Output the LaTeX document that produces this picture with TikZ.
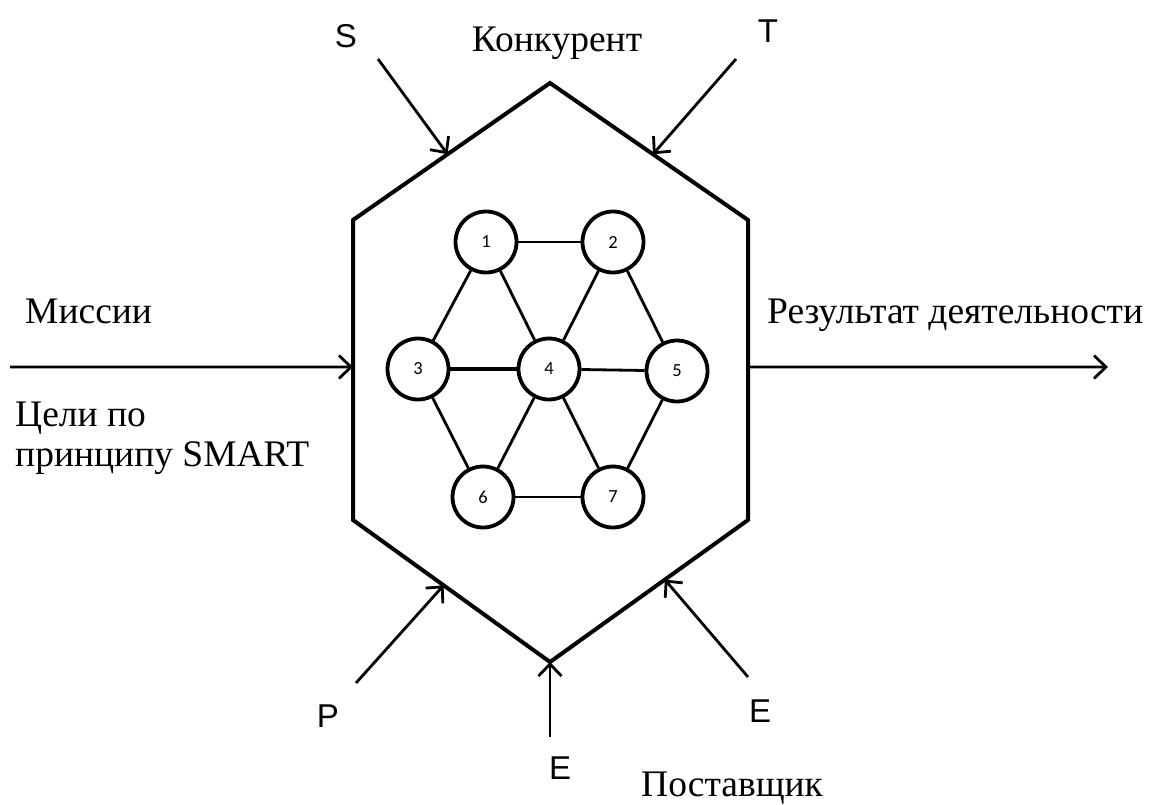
\documentclass[tikz,border=0pt]{standalone}
\usepackage{fontspec}
\setmainfont{Liberation Serif}
\newfontfamily\labfont{Liberation Sans}
\newfontfamily\numfont{Carlito}
\usetikzlibrary{arrows.meta,calc}
\begin{document}
\begin{tikzpicture}[x=1pt,y=-1pt,
  hexline/.style={line width=4pt, line join=miter},
  circ/.style={circle, draw, line width=3.8pt, minimum size=61pt, inner sep=0pt, font=\numfont\fontsize{18.5}{20}\selectfont},
  link/.style={line width=2.8pt},
  thicklink/.style={line width=4.8pt},
  flow/.style={line width=2.8pt, -{Straight Barb[length=12pt,width=23pt]}},
  serif/.style={inner sep=0pt, font=\fontsize{37.5}{42}\selectfont},
  letter/.style={inner sep=0pt, font=\labfont\fontsize{33}{36}\selectfont}]
\useasboundingbox (0,0) rectangle (1156,805);

% hexagon
\coordinate (top) at (550,83);
\coordinate (ur) at (748,220);
\coordinate (lr) at (748,520);
\coordinate (bot) at (550,662);
\coordinate (ll) at (353,520);
\coordinate (ul) at (353,220);
\draw[hexline] (top) -- (ur) -- (lr) -- (bot) -- (ll) -- (ul) -- cycle;

% entry points on the hexagon
\coordinate (sIn) at ($(ul)!0.48!(top)$);
\coordinate (tIn) at ($(top)!0.52!(ur)$);
\coordinate (pIn) at ($(ll)!0.46!(bot)$);
\coordinate (eIn) at ($(bot)!0.58!(lr)$);
\coordinate (leftIn) at ($(ul)!0.49!(ll)$);
\coordinate (rightOut) at ($(ur)!0.49!(lr)$);

% free ends
\coordinate (sStart) at (378,59);
\coordinate (tStart) at (736,59);
\coordinate (pStart) at (356,683);
\coordinate (eStart) at (748,677);
\coordinate (botStart) at (550,737);
\coordinate (leftStart) at (10,367);
\coordinate (rightEnd) at (1108,367);

% circles
\node[circ] (n1) at (486,242) {1};
\node[circ] (n2) at (613,242) {2};
\node[circ] (n3) at (418,369) {3};
\node[circ] (n4) at (549,369) {4};
\node[circ] (n5) at (677,371) {5};
\node[circ] (n6) at (483,497) {6};
\node[circ] (n7) at (613,497) {7};

\draw[link] (n1) -- (n2);
\draw[link] (n1) -- (n3);
\draw[link] (n1) -- (n4);
\draw[link] (n2) -- (n4);
\draw[link] (n2) -- (n5);
\draw[thicklink] (n3) -- (n4);
\draw[link] (n4) -- (n5);
\draw[link] (n3) -- (n6);
\draw[link] (n4) -- (n6);
\draw[link] (n4) -- (n7);
\draw[link] (n5) -- (n7);
\draw[link] (n6) -- (n7);

% arrows
\draw[flow] (sStart) -- (sIn);
\draw[flow] (tStart) -- (tIn);
\draw[flow] (pStart) -- (pIn);
\draw[flow] (eStart) -- (eIn);
\draw[flow] (botStart) -- (bot);
\draw[flow] (leftStart) -- (leftIn);
\draw[flow] (rightOut) -- (rightEnd);

% labels
\node[serif, anchor=base] (konk) at (557,52) {Конкурент};
\node[serif, anchor=base west] (miss) at (25,323) {Миссии};
\node[serif, anchor=base west] (celi1) at (15,426) {Цели по};
\node[serif, anchor=base west] (celi2) at (15,466) {принципу SMART};
\node[serif, anchor=base west] (res) at (767,323) {Результат деятельности};
\node[serif, anchor=base west] (post) at (641,796) {Поставщик};

\node[letter] (lS) at (346,36) {S};
\node[letter] (lT) at (768,31) {T};
\node[letter] (lP) at (328,716) {P};
\node[letter] (lE1) at (560,768) {E};
\node[letter] (lE2) at (760,711) {E};
\end{tikzpicture}
\end{document}
